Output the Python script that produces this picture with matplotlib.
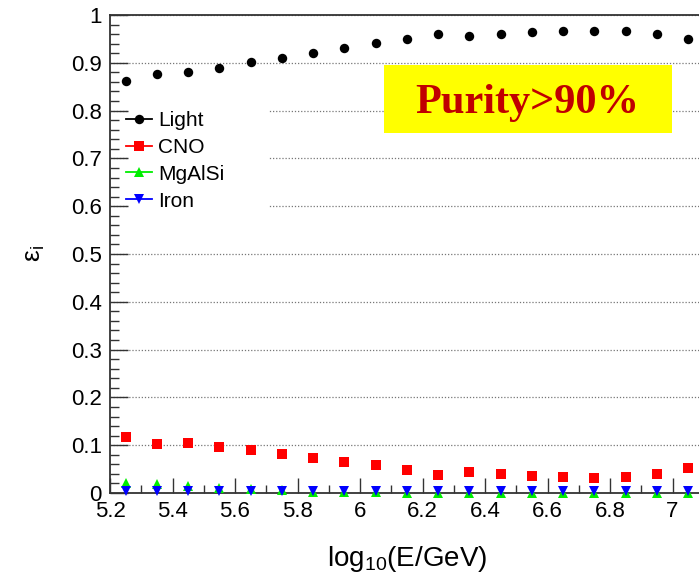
import matplotlib
matplotlib.use("Agg")
import matplotlib.pyplot as plt
from matplotlib.patches import Rectangle
from matplotlib.ticker import MultipleLocator, FuncFormatter

plt.rcParams['font.family'] = ['Liberation Sans', 'DejaVu Sans']
plt.rcParams['mathtext.fontset'] = 'custom'
plt.rcParams['mathtext.rm'] = 'Liberation Sans'
plt.rcParams['mathtext.it'] = 'Liberation Sans:italic'

# log10(E/GeV) bin centres
energy = [5.25, 5.35, 5.45, 5.55, 5.65, 5.75, 5.85, 5.95, 6.05, 6.15,
          6.25, 6.35, 6.45, 6.55, 6.65, 6.75, 6.85, 6.95, 7.05]

light = [0.861, 0.876, 0.881, 0.890, 0.902, 0.911, 0.920, 0.932, 0.941, 0.950,
         0.960, 0.956, 0.960, 0.964, 0.967, 0.967, 0.967, 0.960, 0.950]
cno = [0.117, 0.102, 0.104, 0.097, 0.090, 0.082, 0.074, 0.065, 0.059, 0.048,
       0.037, 0.043, 0.039, 0.036, 0.034, 0.032, 0.034, 0.040, 0.052]
mgalsi = [0.020, 0.018, 0.014, 0.010, 0.008, 0.006, 0.003, 0.002, 0.002, 0.001,
          0.001, 0.001, 0.001, 0.001, 0.001, 0.001, 0.001, 0.001, 0.001]
iron = [0.005, 0.005, 0.005, 0.005, 0.005, 0.005, 0.005, 0.005, 0.005, 0.005,
        0.005, 0.005, 0.005, 0.005, 0.005, 0.005, 0.005, 0.005, 0.005]

series_names = ["Light", "CNO", "MgAlSi", "Iron"]
series_values = [light, cno, mgalsi, iron]
series_colors = ["#000000", "#ff0000", "#00ee00", "#0000ff"]
series_markers = ["o", "s", "^", "v"]
series_sizes = [6.8, 6.8, 6.8, 6.8]

x_range = (5.2, 7.1)
y_range = (0.0, 1.0)
banner_text = "Purity>90%"

W, H = 699, 575
fig = plt.figure(figsize=(W / 100, H / 100), dpi=100)
ax = fig.add_axes([110 / W, 82 / H, 593.75 / W, 478 / H])
ax.set_xlim(*x_range)
ax.set_ylim(*y_range)
ax.set_axisbelow(True)

axis_color = "#333333"
for side in ("left", "top", "bottom"):
    ax.spines[side].set_color(axis_color)
    ax.spines[side].set_linewidth(1.3)
ax.spines["right"].set_visible(False)

ax.xaxis.set_major_locator(MultipleLocator(0.2))
ax.xaxis.set_minor_locator(MultipleLocator(0.1))
ax.yaxis.set_major_locator(MultipleLocator(0.1))
ax.yaxis.set_minor_locator(MultipleLocator(0.02))
ax.xaxis.set_major_formatter(FuncFormatter(lambda v, p: f"{v:g}"))
ax.yaxis.set_major_formatter(FuncFormatter(
    lambda v, p: f"{v:.1f}".rstrip("0").rstrip(".") if v else "0"))

ax.tick_params(axis="x", which="major", direction="in", length=11, width=1,
               color=axis_color, labelsize=16, pad=6, top=False)
ax.tick_params(axis="x", which="minor", direction="in", length=6, width=1,
               color=axis_color, top=False)
ax.tick_params(axis="y", which="major", direction="in", length=13, width=1,
               color=axis_color, labelsize=16, pad=6, right=False)
ax.tick_params(axis="y", which="minor", direction="in", length=6.5, width=1,
               color=axis_color, right=False)

ax.yaxis.grid(True, which="major", linestyle=(0, (1, 1.5)), color="#777777",
              linewidth=0.9)
ax.xaxis.grid(False)

# white backing behind the legend
ax.add_patch(Rectangle((0.032, 0.582), 0.235, 0.24, transform=ax.transAxes,
                       facecolor="white", edgecolor="none", zorder=1))

for name, vals, c, m, s in zip(series_names, series_values, series_colors,
                               series_markers, series_sizes):
    ax.plot(energy, vals, linestyle="none", marker=m, color=c, markersize=s,
            markeredgewidth=0, label=name, zorder=3, clip_on=False)

handles = []
for name, c, m, s in zip(series_names, series_colors, series_markers, series_sizes):
    h, = ax.plot([], [], color=c, marker=m, markersize=s, markeredgewidth=0,
                 linewidth=1.3, label=name)
    handles.append(h)
leg = ax.legend(handles=handles, loc="upper left", bbox_to_anchor=(0.027, 0.799),
                frameon=False, fontsize=15, handlelength=1.25, handletextpad=0.3,
                labelspacing=0.375, borderpad=0, borderaxespad=0)

# purity banner
ax.add_patch(Rectangle((0.4622, 0.7531), 0.4843, 0.1423, transform=ax.transAxes,
                       facecolor="#ffff00", edgecolor="none", zorder=2))
ax.text(0.703, 0.795, banner_text, transform=ax.transAxes, ha="center",
        va="baseline", fontsize=30.5, fontweight="bold", color="#c00000",
        family="Liberation Serif", zorder=4)

fig.text(35 / W, 1 - 254 / H, "ε$_\\mathrm{i}$", rotation=90, fontsize=19,
         ha="center", va="center")
fig.text(407 / W, 1 - 566 / H, "log$_{10}$(E/GeV)", fontsize=20,
         ha="center", va="baseline")

fig.savefig("out.png", dpi=100)
